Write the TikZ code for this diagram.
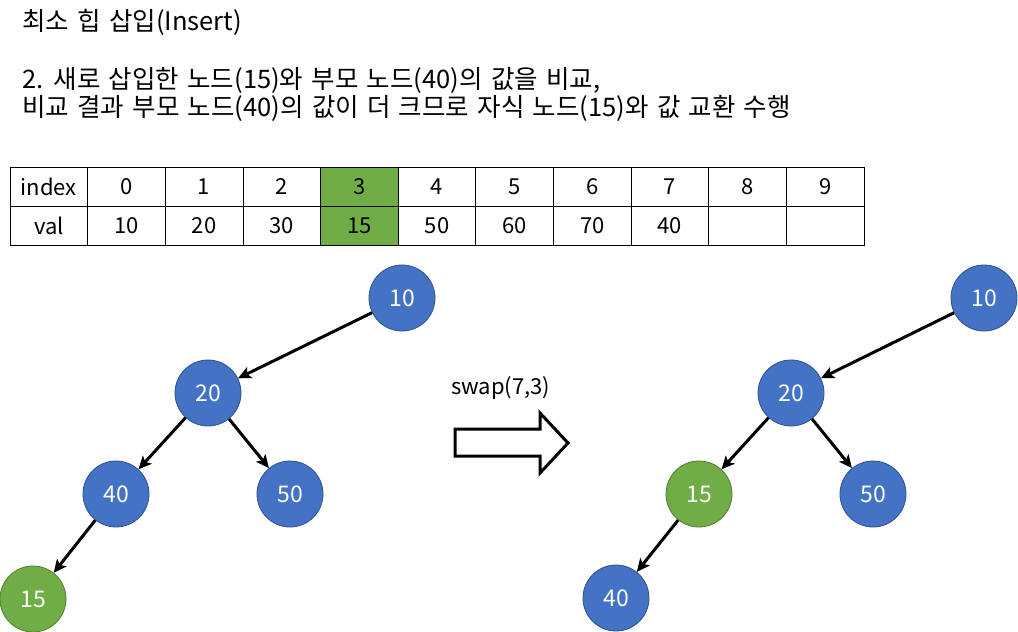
\documentclass[tikz,border=0pt]{standalone}
\usepackage{fontspec}
\setmainfont{Noto Sans CJK KR}
\newfontfamily\bodyfont{Noto Sans CJK KR}[WordSpace=1.45]
\usetikzlibrary{arrows.meta}
\definecolor{nblue}{HTML}{4472C4}
\definecolor{nblueb}{HTML}{2F528F}
\definecolor{ngreen}{HTML}{70AD47}
\definecolor{ngreenb}{HTML}{507E32}
\tikzset{
  tnode/.style={circle, minimum size=66pt, inner sep=0pt, line width=0.8pt, text=white, font=\fontsize{23}{26}\selectfont},
  bnode/.style={tnode, fill=nblue, draw=nblueb},
  gnode/.style={tnode, fill=ngreen, draw=ngreenb},
  edge/.style={line width=3pt, -{Stealth[length=13pt,width=12pt,inset=3pt]}, shorten <=0pt},
  cell/.style={draw=black, line width=0.8pt, minimum width=77.64pt, minimum height=39pt, inner sep=0pt, font=\fontsize{22}{24}\selectfont},
  txt/.style={anchor=west, inner sep=0pt, font=\bodyfont\fontsize{25.5}{28}\selectfont},
}
\begin{document}
\begin{tikzpicture}[x=1pt,y=-1pt]
\useasboundingbox[fill=white] (0,0) rectangle (1018,632);
% texts
\node[txt] (title) at (22,22) {최소 힙 삽입(Insert)};
\node[txt] (l1) at (22,80) {2. 새로 삽입한 노드(15)와 부모 노드(40)의 값을 비교,};
\node[txt] (l2) at (22,108) {비교 결과 부모 노드(40)의 값이 더 크므로 자식 노드(15)와 값 교환 수행};
% table
\node[cell] (h0) at (48.82,186.5) {index};
\node[cell] (v0) at (48.82,225.5) {val};
\foreach \i/\a/\b in {0/0/10,1/1/20,2/2/30,3/3/15,4/4/50,5/5/60,6/6/70,7/7/40,8/8/,9/9/} {
  \pgfmathsetmacro{\cx}{48.82+77.64*(\i+1)}
  \ifnum\i=3
    \node[cell, fill=ngreen] (h\a x) at (\cx,186.5) {\a};
    \node[cell, fill=ngreen] (v\a x) at (\cx,225.5) {\b};
  \else
    \node[cell] (h\a x) at (\cx,186.5) {\a};
    \node[cell] (v\a x) at (\cx,225.5) {\b};
  \fi
}
% left tree
\node[bnode] (a10) at (402,298) {10};
\node[bnode] (a20) at (208,393) {20};
\node[bnode] (a40) at (116,494) {40};
\node[bnode] (a50) at (290,494) {50};
\node[gnode] (a15) at (33,599) {15};
\draw[edge] (a10) -- (a20);
\draw[edge] (a20) -- (a40);
\draw[edge] (a20) -- (a50);
\draw[edge] (a40) -- (a15);
% swap
\node[inner sep=0pt, anchor=west, font=\fontsize{22}{24}\selectfont] (sw) at (451,388) {swap(7,3)};
\draw[line width=3pt, line join=miter] (455,429) -- (540,429) -- (540,413) -- (568,443) -- (540,473) -- (540,456) -- (455,456) -- cycle;
% right tree
\node[bnode] (b10) at (984,298) {10};
\node[bnode] (b20) at (791,393) {20};
\node[gnode] (b15) at (699,494) {15};
\node[bnode] (b50) at (873,494) {50};
\node[bnode] (b40) at (616,598) {40};
\draw[edge] (b10) -- (b20);
\draw[edge] (b20) -- (b15);
\draw[edge] (b20) -- (b50);
\draw[edge] (b15) -- (b40);
\end{tikzpicture}
\end{document}
